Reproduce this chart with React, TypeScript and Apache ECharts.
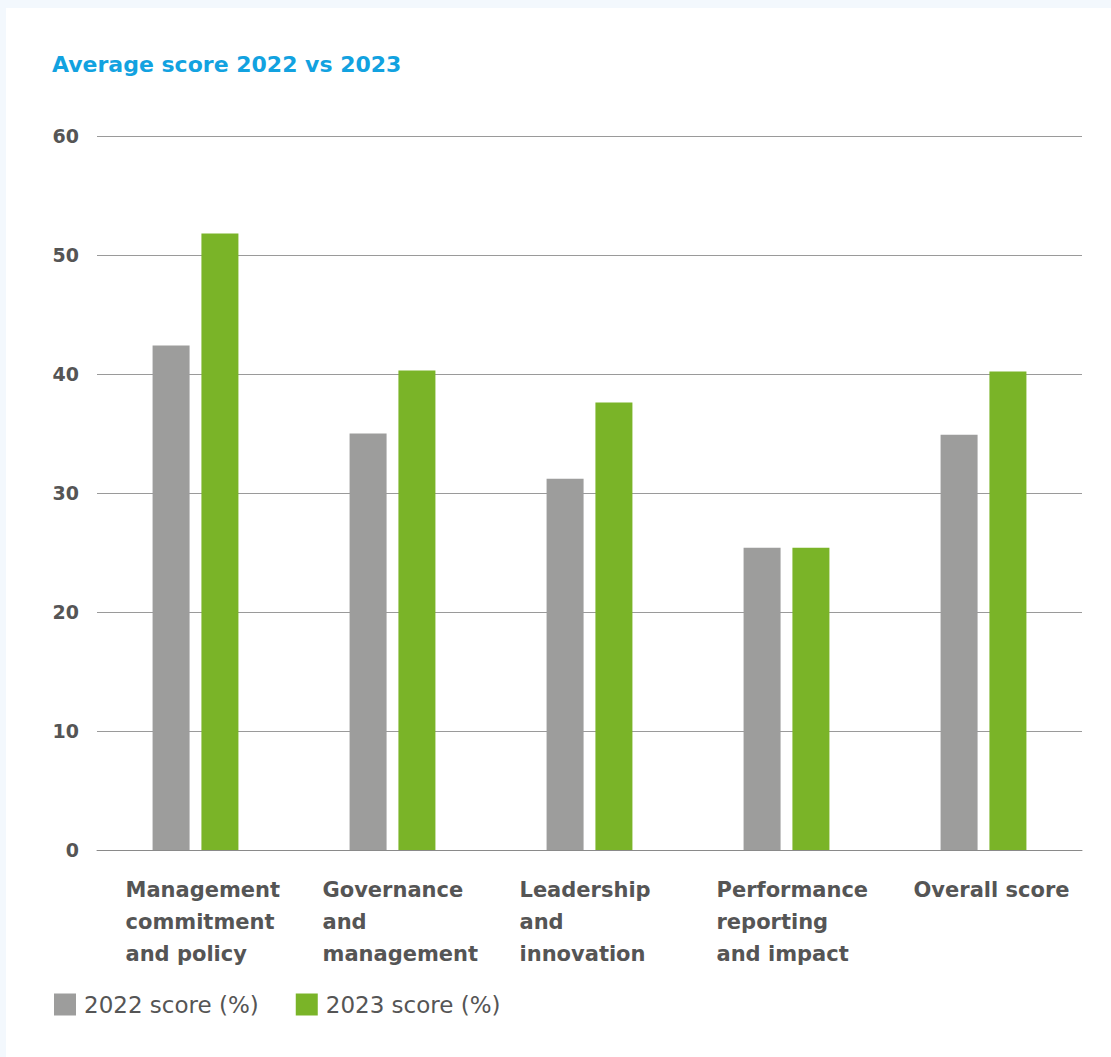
import React, { useEffect, useRef } from "react";
import * as echarts from "echarts";

const categories = [
  "Management\ncommitment\nand policy",
  "Governance\nand\nmanagement",
  "Leadership\nand\ninnovation",
  "Performance\nreporting\nand impact",
  "Overall score",
];
const score2022 = [42.4, 35.0, 31.2, 25.4, 34.9];
const score2023 = [51.8, 40.3, 37.6, 25.4, 40.2];
const seriesNames = ["2022 score (%)", "2023 score (%)"];
const titleText = "Average score 2022 vs 2023";

const GREY = "#9d9d9c";
const GREEN = "#7ab428";
const TEXT = "#555555";
const FONT = "'DejaVu Sans', sans-serif";

export default function App() {
  const ref = useRef<HTMLDivElement>(null);
  useEffect(() => {
    if (!ref.current) return;
    const chart = echarts.init(ref.current, null, { renderer: "svg" });
    chart.setOption({
      animation: false,
      backgroundColor: "transparent",
      title: {
        text: titleText,
        left: 52,
        top: 53,
        padding: 0,
        textStyle: { color: "#12a2e0", fontSize: 22, fontWeight: "bold", fontFamily: FONT },
      },
      legend: {
        left: 54,
        top: 993,
        padding: 0,
        icon: "rect",
        itemWidth: 22,
        itemHeight: 22,
        itemGap: 37,
        textStyle: { color: TEXT, fontSize: 23, fontFamily: FONT, padding: [0, 0, 0, 3] },
        data: seriesNames,
      },
      grid: { left: 97, right: 29, top: 136, bottom: 207, containLabel: false },
      xAxis: {
        type: "category",
        data: categories,
        axisTick: { show: false },
        axisLine: { lineStyle: { color: "#8a8a8a", width: 1 } },
        axisLabel: {
          interval: 0,
          margin: 24,
          align: "center",
          verticalAlign: "top",
          formatter: (v: string) => v.split("\n").map((l) => `{a|${l}}`).join("\n"),
          rich: {
            a: {
              width: 140,
              align: "left",
              fontSize: 21,
              fontWeight: "bold",
              lineHeight: 32,
              color: TEXT,
              fontFamily: FONT,
            },
          },
        },
      },
      yAxis: {
        type: "value",
        min: 0,
        max: 60,
        interval: 10,
        axisLine: { show: false },
        axisTick: { show: false },
        splitLine: { lineStyle: { color: "#9a9a9a", width: 1 } },
        axisLabel: {
          margin: 18,
          color: TEXT,
          fontSize: 19,
          fontWeight: "bold",
          fontFamily: FONT,
        },
      },
      series: [
        {
          name: seriesNames[0],
          type: "bar",
          data: score2022,
          barWidth: 37,
          barGap: "32%",
          itemStyle: { color: GREY },
        },
        {
          name: seriesNames[1],
          type: "bar",
          data: score2023,
          barWidth: 37,
          barGap: "32%",
          itemStyle: { color: GREEN },
        },
      ],
    });
    return () => chart.dispose();
  }, []);
  return (
    <div
      style={{
        position: "fixed",
        left: 0,
        top: 0,
        width: 1111,
        height: 1057,
        background: "#f3f8fd",
      }}
    >
      <div
        style={{
          position: "absolute",
          left: 6,
          top: 8,
          right: 0,
          bottom: 0,
          background: "#ffffff",
        }}
      />
      <div ref={ref} style={{ position: "absolute", left: 0, top: 0, width: 1111, height: 1057 }} />
    </div>
  );
}
